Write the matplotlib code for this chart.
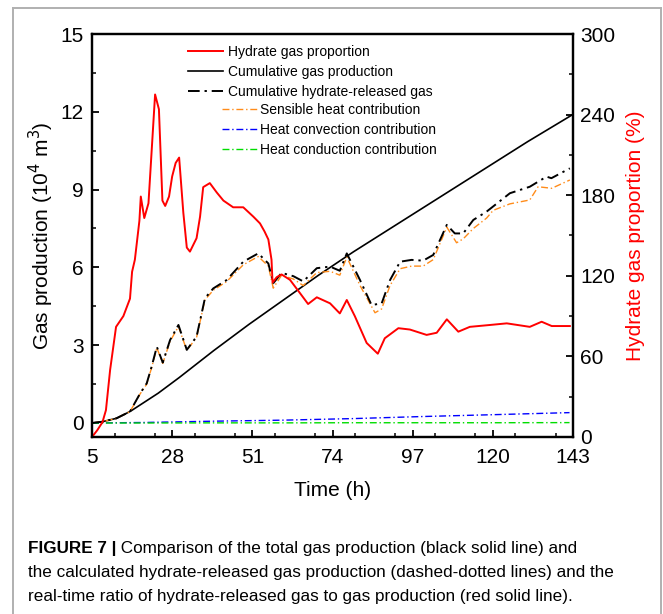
import matplotlib
matplotlib.use("Agg")
from matplotlib import pyplot as plt
from matplotlib.lines import Line2D
from matplotlib.ticker import MultipleLocator

plt.rcParams['font.family'] = ['Liberation Sans', 'DejaVu Sans']

# 水合物产气比例 (%), 右轴
t_red = [5, 6.5, 8, 9, 10.2, 11.9, 14, 15.9, 16.5, 17.3, 18.6, 19.0, 20.0, 21.2, 23.1, 24.2,
         25.2, 26.0, 27.1, 28.0, 29.0, 30.0, 31.2, 32.2, 33.1, 35.0, 36.0, 36.9, 38.8, 40.8,
         42.7, 45.5, 48.4, 51.3, 53.2, 54.5, 55.6, 56.5, 56.8, 58.0, 59.4, 61.8, 64.7, 67.0,
         69.5, 73.3, 76.1, 78.1, 80.4, 83.8, 87.0, 89.0, 92.9, 96.2, 101, 103.9, 106.8, 110.1,
         113.4, 119.2, 124, 130.6, 134, 136.9, 142.1]
red_pct = [0, 5, 11, 20, 50, 82, 90, 103, 123, 132, 161, 179, 163, 174, 255, 244,
           176, 172, 179, 194, 204, 208, 167, 141, 138, 148, 164, 186, 189, 182,
           176, 171, 171, 164, 159, 153, 147, 132, 115, 119, 121, 117, 107, 99,
           104, 99.5, 92, 102, 90, 70, 62, 73.5, 81, 80, 76, 77.6, 87.6, 78.4,
           82, 83.4, 84.6, 82, 85.8, 82.6, 82.6]

# 累计产气量
t_total = [5, 8, 12, 16, 20, 24, 30, 40, 50, 60, 70, 80, 90, 100, 110, 120, 130, 143]
total_gas = [0, 0.05, 0.18, 0.45, 0.8, 1.15, 1.75, 2.8, 3.8, 4.75, 5.7, 6.6, 7.45, 8.3,
             9.15, 10.0, 10.85, 11.9]

# 累计水合物分解气
t_hyd = [5, 8, 12, 15.9, 18.8, 20.7, 22.1, 23.6, 25.3, 27.4, 29.8, 32.2, 35, 37.4, 39.8,
         43.6, 48.4, 52.7, 55.6, 57, 59.4, 62.8, 65.6, 69.5, 73.3, 76.1, 78.1, 81.9, 85.2,
         88.1, 90.5, 93.4, 96.7, 100, 102.9, 106.8, 109.1, 111.5, 114.4, 118.2, 124.9,
         130.6, 135.4, 136.8, 142.1]
hyd_gas = [0, 0.05, 0.18, 0.44, 1.14, 1.53, 2.17, 2.94, 2.33, 3.2, 3.78, 2.82, 3.33, 4.81,
           5.19, 5.51, 6.22, 6.54, 6.15, 5.39, 5.79, 5.66, 5.46, 5.97, 6.03, 5.87, 6.54,
           5.51, 4.55, 4.61, 5.51, 6.22, 6.29, 6.26, 6.48, 7.64, 7.31, 7.31, 7.83, 8.15,
           8.86, 9.11, 9.5, 9.44, 9.82]

# 显热贡献
t_sens = [5, 8, 12, 15.9, 18.8, 20.7, 22.1, 23.6, 25.3, 27.4, 29.8, 32.2, 35, 37.4, 39.8,
          43.6, 48.4, 52.7, 55.6, 57, 59.4, 62.8, 65.6, 69.5, 73.3, 76.1, 78.1, 81.9, 86.2,
          88.1, 90.5, 93.4, 96.7, 100, 102.9, 106.8, 109.6, 111.5, 114.4, 118.2, 120.1,
          124.9, 130.6, 133, 136.9, 142.1]
sens_gas = [0, 0.05, 0.18, 0.44, 1.12, 1.5, 2.13, 2.9, 2.3, 3.15, 3.72, 2.8, 3.3, 4.75,
            5.12, 5.45, 6.1, 6.42, 6.05, 5.2, 5.7, 5.55, 5.3, 5.8, 5.85, 5.7, 6.4, 5.3,
            4.25, 4.4, 5.3, 5.95, 6.05, 6.05, 6.3, 7.55, 6.95, 7.1, 7.5, 7.9, 8.2, 8.45,
            8.6, 9.11, 9.05, 9.37]

# 对流与传导贡献
t_heat = [5, 20, 40, 60, 80, 100, 120, 142]
conv_gas = [0, 0.02, 0.07, 0.11, 0.17, 0.25, 0.32, 0.40]
cond_gas = [0, 0.0, 0.005, 0.005, 0.01, 0.01, 0.01, 0.015]

labels = ["Hydrate gas proportion", "Cumulative gas production",
          "Cumulative hydrate-released gas", "Sensible heat contribution",
          "Heat convection contribution", "Heat conduction contribution"]

fig = plt.figure(figsize=(6.63, 6.14), dpi=100)
ax = fig.add_axes([92 / 663, 1 - 437 / 614, 481 / 663, 403 / 614])
ax2 = ax.twinx()

ls_black = (0, (6, 2.5, 1.2, 2.5))
ls_col = (0, (5, 2, 1, 2))
l_tot, = ax.plot(t_total, total_gas, color="black", lw=1.2)
l_sen, = ax.plot(t_sens, sens_gas, color="#ff8c1a", lw=1.0, ls=ls_col)
l_cnv, = ax.plot(t_heat, conv_gas, color="#0000ff", lw=1.0, ls=ls_col)
l_cnd, = ax.plot(t_heat, cond_gas, color="#00dd00", lw=1.0, ls=ls_col)
l_hyd, = ax.plot(t_hyd, hyd_gas, color="black", lw=1.4, ls=ls_black)
l_red, = ax2.plot(t_red, red_pct, color="#ff0000", lw=1.4)

ax.set_xlim(5, 143)
ax.set_ylim(-0.54, 15)
ax2.set_ylim(0, 300)
ax.set_xticks([5, 28, 51, 74, 97, 120, 143])
ax.xaxis.set_minor_locator(MultipleLocator(11.5))
ax.set_yticks([0, 3, 6, 9, 12, 15])
ax.yaxis.set_minor_locator(MultipleLocator(1.5))
ax2.set_yticks([0, 60, 120, 180, 240, 300])
ax2.yaxis.set_minor_locator(MultipleLocator(30))

for a in (ax, ax2):
    for s in a.spines.values():
        s.set_linewidth(1.6)
    a.tick_params(which="major", direction="in", length=5, width=1.3, labelsize=15)
    a.tick_params(which="minor", direction="in", length=3, width=1.1)
ax.tick_params(axis="x", pad=8)
ax.tick_params(axis="y", pad=6)
ax2.tick_params(axis="y", pad=5)

ax.set_xlabel("Time (h)", fontsize=15, labelpad=10)
ax.set_ylabel("Gas production (10$^4$ m$^3$)", fontsize=15, labelpad=3)
ax2.set_ylabel("Hydrate gas proportion (%)", fontsize=15, color="#ff0000", labelpad=8)

leg1 = ax.legend([l_red, l_tot, l_hyd], labels[:3], loc="upper left",
                 bbox_to_anchor=(188 / 663, 1 - 45 / 614), bbox_transform=fig.transFigure,
                 frameon=False, fontsize=10, handlelength=2.5, handletextpad=0.35,
                 labelspacing=0.42, borderpad=0, borderaxespad=0)
ax.add_artist(leg1)
ax.legend([l_sen, l_cnv, l_cnd], labels[3:], loc="upper left",
          bbox_to_anchor=(222 / 663, 1 - 103 / 614), bbox_transform=fig.transFigure,
          frameon=False, fontsize=10, handlelength=2.5, handletextpad=0.25,
          labelspacing=0.42, borderpad=0, borderaxespad=0)

# 外框
frame = [Line2D([13 / 663, 13 / 663], [-0.01, 1 - 8 / 614]),
         Line2D([13 / 663, 661 / 663], [1 - 8 / 614, 1 - 8 / 614]),
         Line2D([661 / 663, 661 / 663], [1 - 8 / 614, -0.01])]
for ln in frame:
    ln.set_color("#b0b0b0")
    ln.set_linewidth(1.4)
    fig.add_artist(ln)

# 图注
cap_size = 12.3
t_bold = fig.text(28 / 663, 1 - 548 / 614, "FIGURE 7 |", fontsize=cap_size,
                  fontweight="bold", va="center")
plt.annotate(" Comparison of the total gas production (black solid line) and",
             xy=(1, 0.5), xycoords=t_bold, va="center", ha="left", fontsize=cap_size,
             annotation_clip=False)
fig.text(28 / 663, 1 - 572 / 614,
         "the calculated hydrate-released gas production (dashed-dotted lines) and the",
         fontsize=cap_size, va="center")
fig.text(28 / 663, 1 - 596 / 614,
         "real-time ratio of hydrate-released gas to gas production (red solid line).",
         fontsize=cap_size, va="center")

plt.savefig("out.png", dpi=100)
